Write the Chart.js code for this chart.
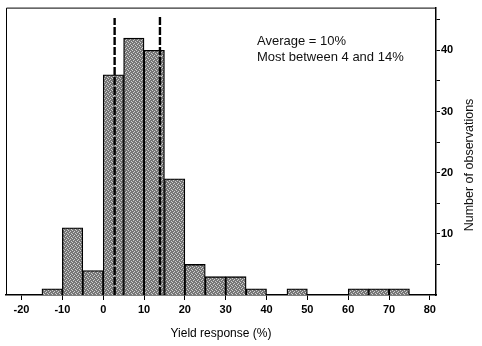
<!DOCTYPE html>
<html>
<head>
<meta charset="utf-8">
<script src="https://cdn.jsdelivr.net/npm/chart.js@4"></script>
<style>
html,body{margin:0;padding:0;background:#fff;}
#wrap{width:482px;height:346px;position:relative;}
</style>
</head>
<body>
<div id="wrap"><canvas id="c" width="482" height="346"></canvas></div>
<script>
// Histogram bins (lower edge of each 5%-wide bin) and counts
const binStarts = [-15,-10,-5,0,5,10,15,20,25,30,35,40,45,50,55,60,65,70];
const binWidth = 5;
const counts    = [1,11,4,36,42,40,19,5,3,3,1,null,1,null,null,1,1,1];
// Dashed marker lines (range of most observations)
const markerX = [2.8, 13.9];
const markerTop = [45.3, 45.5];
const xTicks = [-20,-10,0,10,20,30,40,50,60,70,80];
const yLabels = [10,20,30,40];
const annotation = ["Average = 10%", "Most between 4 and 14%"];
const xTitle = "Yield response (%)";
const yTitle = "Number of observations";

// Dither-like pattern for bar fill
function makePattern(){
  const p = document.createElement('canvas');
  p.width = 4; p.height = 4;
  const g = p.getContext('2d');
  const map = [
    [0,1,0,0],
    [0,0,0,1],
    [1,0,0,0],
    [0,0,1,0]];
  for (let y=0;y<4;y++) for (let x=0;x<4;x++){
    g.fillStyle = map[y][x] ? '#cfcfcf' : '#767676';
    g.fillRect(x,y,1,1);
  }
  return g.createPattern(p,'repeat');
}
const ctx0 = document.getElementById('c').getContext('2d');
const fillPat = makePattern();

const barData = binStarts.map((s,i)=>({x: s + binWidth/2, y: counts[i]}));
const markerSets = markerX.map((mx,i)=>({
  type:'line',
  data:[{x:mx,y:0},{x:mx,y:markerTop[i]}],
  borderColor:'#000',
  borderWidth:2.4,
  borderDash:[8,2],
  pointRadius:0,
  fill:false,
  order:0
}));

const framePlugin = {
  id:'frame',
  afterDraw(chart){
    const {ctx, chartArea:a} = chart;
    ctx.save();
    ctx.strokeStyle='#000';
    ctx.lineWidth=1;
    ctx.beginPath();
    ctx.moveTo(a.left+0.5, a.bottom);
    ctx.lineTo(a.left+0.5, a.top+0.5);
    ctx.lineTo(a.right, a.top+0.5);
    ctx.stroke();
    // annotation text
    ctx.fillStyle='#111';
    ctx.font='13px "Liberation Sans", Arial, sans-serif';
    ctx.textBaseline='middle';
    ctx.textAlign='left';
    ctx.fillText(annotation[0], 257, 41);
    ctx.fillText(annotation[1], 257, 57);
    // right-hand axis title, reading bottom to top
    ctx.save();
    ctx.translate(470, 165);
    ctx.rotate(-Math.PI/2);
    ctx.textAlign='center';
    ctx.font='12.5px "Liberation Sans", Arial, sans-serif';
    ctx.fillText(yTitle, 0, 0);
    ctx.restore();
    ctx.restore();
  }
};

new Chart(ctx0, {
  data:{
    datasets:[
      ...markerSets,
      {
        type:'bar',
        data:barData,
        backgroundColor:fillPat,
        borderColor:'#000',
        borderWidth:{top:1.3,left:1.3,right:1.3,bottom:0},
        barPercentage:1,
        categoryPercentage:1,
        order:1
      }
    ]
  },
  options:{
    responsive:false,
    animation:false,
    events:[],
    layout:{padding:{left:6,top:5,right:0,bottom:0}},
    plugins:{legend:{display:false},tooltip:{enabled:false}},
    scales:{
      x:{
        type:'linear',
        position:'bottom',
        offset:false,
        min:-23.8,
        max:81.5,
        afterBuildTicks(s){ s.ticks = xTicks.map(v=>({value:v})); },
        afterFit(s){ s.height = 51; },
        ticks:{
          includeBounds:false,
          color:'#000',
          font:{family:'"Liberation Sans", Arial, sans-serif', size:11, weight:'bold'},
          padding:3,
          maxRotation:0
        },
        grid:{offset:false, drawOnChartArea:false, drawTicks:true, tickLength:5, color:'#000', lineWidth:1},
        border:{display:true, color:'#000', width:1.5},
        title:{display:true, text:xTitle, color:'#000',
          font:{family:'"Liberation Sans", Arial, sans-serif', size:12},
          padding:{top:0,bottom:5}}
      },
      y:{
        type:'linear',
        position:'right',
        min:0,
        max:47,
        afterBuildTicks(s){
          const t=[]; for (let v=5; v<=45; v+=5) t.push({value:v}); s.ticks=t;
        },
        afterFit(s){ s.width = 46; },
        ticks:{
          includeBounds:false,
          color:'#000',
          font:{family:'"Liberation Sans", Arial, sans-serif', size:11, weight:'bold'},
          padding:1,
          callback(v){ return yLabels.includes(v) ? String(v) : ''; }
        },
        grid:{drawOnChartArea:false, drawTicks:true, tickLength:4, color:'#000', lineWidth:1},
        border:{display:true, color:'#000', width:1.5}
      }
    }
  },
  plugins:[framePlugin]
});
</script>
</body>
</html>
